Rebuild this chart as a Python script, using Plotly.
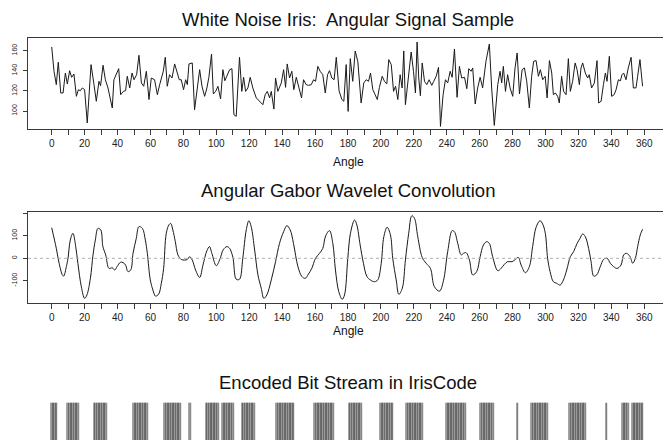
import plotly.graph_objects as go

# ---------------- data ----------------
signal_angle = [0, 1.4, 2.8, 4.0, 5.5, 6.9, 8.3, 9.5, 10.9, 12.1, 13.5, 15.0, 16.2, 17.4, 18.6, 20.0, 21.6, 23.9,
                25.7, 27.1, 28.7, 29.7, 31.2, 32.6, 34.2, 36.8, 37.8, 40.7, 41.9, 43.5, 44.9, 45.9, 47.4, 48.8,
                50.0, 51.6, 53.0, 54.5, 55.9, 57.5, 59.1, 60.5, 62.5, 64.2, 65.6, 67.8, 69.0, 70.2, 71.6, 73.1,
                74.7, 76.3, 77.5, 78.7, 80.1, 81.4, 82.4, 83.4, 85.4, 86.8,
                88.5, 89.9, 91.3, 92.9, 94.3, 95.5, 97.1, 98.2, 99.6, 101.0, 102.6, 104.0, 105.2, 106.7, 108.1,
                109.5, 110.7, 112.1, 114.1, 115.5, 116.6, 117.8, 119.2, 120.6, 122.2, 124.3, 126.3, 128.3, 129.7,
                131.0, 132.4, 133.4, 135.0, 136.0, 137.4, 139.5, 140.9, 142.1, 143.1, 144.5, 145.9, 147.1, 148.6,
                150.2, 151.8, 153.0, 154.6, 156.0, 157.7, 159.1, 160.3, 161.7, 163.1, 164.7, 166.2, 167.6, 168.8,
                170.2, 171.6, 172.9, 174.6,
                176.3, 177.5, 178.9, 180.1, 181.4, 182.9, 184.4, 186.0, 188.0, 189.6, 191.1, 192.5, 193.7, 195.1,
                196.5, 197.8, 199.1, 200.8, 202.2, 203.6, 204.8, 206.3, 207.7, 208.9, 210.3, 211.7, 212.9, 213.9,
                214.9, 216.0, 217.4, 218.4, 219.8, 221.0, 222.0, 223.0, 224.0, 225.1, 226.5, 227.9, 229.3, 230.9,
                232.1, 233.6, 235.0, 236.2, 237.8, 239.2, 240.6, 242.1, 243.3, 244.7, 246.3, 247.7, 249.1, 250.8,
                252.2, 253.4, 254.8, 255.8, 257.3, 258.8, 260.3, 261.8, 263.9,
                265.9, 267.3, 268.9, 271.0, 272.4, 273.4, 274.4, 275.7, 277.0, 278.5, 280.1, 281.5, 282.8, 284.2,
                285.8, 287.2, 288.6, 290.2, 291.6, 292.8, 294.3, 295.7, 296.9, 298.3, 299.8, 301.0, 302.4, 303.8,
                304.8, 306.0, 307.4, 308.4, 309.8, 311.0, 312.5, 313.9, 315.1, 316.5, 318.0, 319.2, 320.6, 321.6,
                322.6, 324.2, 325.6, 326.6, 328.0, 329.7, 331.3, 332.3, 333.8, 335.2, 336.4, 337.4, 338.8, 340.2,
                341.7, 342.9, 344.3, 345.5, 346.5, 347.5, 348.9, 350.3, 352.0, 353.4, 355.0, 356.0, 357.4, 359.0]
signal_value = [163.7, 139.5, 126.2, 148.5, 117.9, 117.9, 137.8, 126.9, 140.1, 133.5, 136.8, 114.6, 121.2, 120.2,
                122.9, 121.2, 88.1, 146.1, 126.2, 109.7, 129.5, 125.2, 145.5, 131.1, 122.9, 103.0, 131.1, 142.1,
                116.2, 119.5, 120.2, 134.5, 122.9, 137.8, 131.1, 136.1, 155.4, 127.9, 124.6, 139.5, 111.4, 132.8,
                131.1, 116.2, 126.2, 139.5, 153.4, 124.6, 136.1, 132.8, 146.8, 137.8, 131.1, 131.1, 121.2, 131.1,
                126.2, 146.8, 147.8, 101.3,
                122.9, 141.1, 124.6, 114.6, 122.9, 133.5, 156.7, 116.9, 119.5, 124.6, 112.0, 141.1, 130.1, 136.8,
                141.1, 142.1, 96.3, 94.7, 153.4, 119.5, 133.5, 119.5, 122.9, 133.5, 122.9, 113.0, 109.7, 106.3,
                116.2, 119.5, 113.0, 119.5, 101.9, 132.8, 119.5, 127.9, 141.1, 123.5, 146.8, 132.8, 139.5, 121.2,
                133.5, 123.5, 113.0, 131.1, 126.2, 125.5, 126.2, 131.1, 129.5, 144.4, 139.5, 136.1, 117.9, 136.1,
                140.1, 132.8, 131.1, 153.4, 120.0,
                111.4, 109.7, 146.1, 99.6, 152.1, 129.5, 159.7, 149.1, 108.0, 127.9, 131.1, 129.5, 137.8, 121.2,
                116.2, 111.4, 123.5, 134.5, 129.5, 126.9, 151.1, 146.1, 119.5, 124.6, 111.4, 136.1, 122.9, 159.7,
                106.3, 124.6, 142.8, 158.7, 139.5, 117.9, 168.6, 132.8, 115.2, 147.8, 129.5, 126.2, 131.1, 125.5,
                129.5, 134.5, 143.4, 84.7, 116.2, 131.1, 127.9, 139.5, 133.5, 161.7, 113.6, 144.4, 132.8, 133.5,
                122.2, 142.1, 139.5, 142.8, 107.0, 122.9, 133.5, 123.0, 150.0,
                166.6, 122.9, 85.7, 126.2, 139.5, 127.9, 144.4, 119.5, 136.1, 122.9, 114.6, 142.8, 157.7, 116.9,
                141.1, 142.8, 129.5, 103.0, 134.5, 149.4, 150.1, 134.5, 141.1, 131.1, 134.5, 113.0, 150.1, 137.8,
                116.2, 117.9, 114.6, 108.0, 134.5, 119.5, 116.2, 152.1, 119.5, 129.5, 147.8, 141.1, 126.2, 142.8,
                147.8, 137.8, 132.8, 136.1, 122.9, 127.9, 150.1, 108.0, 109.7, 126.2, 137.8, 129.5, 154.4, 114.6,
                116.2, 121.2, 131.1, 130.0, 136.1, 137.8, 131.1, 142.8, 153.4, 122.9, 123.0, 134.5, 151.1, 124.6]

conv_angle = [0, 2.8, 4.5, 6.5, 7.3, 8.9, 9.9, 11.3, 12.9, 14.6, 15.9, 18.0, 20.0, 21.4, 23.5, 25.1, 26.5, 28.1,
              29.8, 31.1, 32.8, 34.8, 36.8, 38.3, 39.7, 41.7, 43.3, 44.9, 46.3, 48.0, 49.4, 51.4, 53.0, 55.1,
              56.9, 58.1, 59.9, 61.5, 63.1, 65.0, 66.6, 68.0, 69.6, 71.2, 72.3, 73.6, 75.1, 76.7, 78.7, 80.8,
              82.4, 83.8, 85.4, 87.4, 89.9, 91.9, 94.3, 95.9, 97.3, 100.0, 102.2, 104.2, 106.5, 108.1, 110.1,
              112.1, 114.1, 116.1, 118.2, 119.8, 121.2, 123.3, 125.3, 127.3, 128.9, 130.7, 133.4, 136.0, 138.4,
              140.9, 142.9, 144.9, 146.9, 149.6, 152.0, 154.0, 156.0, 158.0, 160.3, 162.7, 164.7, 166.4, 168.8,
              170.8, 172.4, 174.4, 176.5, 177.9, 179.9, 181.5, 184.0, 185.4, 187.4, 189.4, 191.5, 193.5, 196.1,
              198.1, 200.2, 201.8, 203.8, 205.8, 207.2, 209.3, 210.9, 213.0, 214.9, 216.9, 218.8, 220.4, 222.4,
              225.1, 227.5, 230.1, 232.5, 235.6, 238.0, 240.6, 243.3, 244.7, 246.7, 248.8, 250.2, 251.8, 253.8,
              255.8, 258.2, 260.3, 262.3, 264.3, 265.9, 267.9, 271.0, 273.0, 275.0, 277.0, 279.7, 281.7, 283.5,
              285.2, 287.8, 290.2, 292.2, 294.3, 296.7, 298.3, 299.9, 301.3, 302.8, 304.8, 306.8, 308.9, 310.9,
              312.9, 315.1, 317.1, 319.2, 321.0, 322.6, 324.2, 326.2, 327.7, 329.3, 331.1, 333.3, 335.3, 337.4,
              339.4, 341.4, 343.5, 345.9, 347.5, 349.3, 351.4, 353.0, 354.6, 356.0, 357.6, 359.0]
conv_value = [136, 44, -22, -74, -79, -37, 0, 81, 111, 52, -22, -126, -178, -163, -89, 15, 81, 133,
              126, 52, 15, -45, -42, -52, -37, -18, -19, -30, -59, -52, 22, 89, 141, 133,
              81, 22, -96, -141, -168, -159, -111, -45, 111, 148, 155, 126, 74, 15, -5, -8,
              -5, 7, -8, -52, -85, -30, 34, 52, 22, -33, -4, 38, 52, 44, 4,
              -93, -93, 0, 126, 167, 141, 37, -74, -133, -178, -163, -96, -15, 66,
              118, 145, 126, 66, -37, -81, -89, -70, -45, 0, 22, 44, 99, 123,
              66, -52, -148, -182, -163, 0, 111, 170, 148, 59, -22, -81, -96, -104,
              -96, -22, 96, 138, 104, 0, -96, -160, -133, -8, 111, 189, 178, 96,
              4, -22, -45, -126, -146, -100, 30, 123, 118, 66, 15, 22, 25, -8,
              -74, -59, 7, 59, 74, 66, 7, -55, -45, -27, -15, -15, -5, 4,
              -30, -64, -37, 52, 138, 167, 152, 111, 0, -59, -104, -111, -119, -96,
              -52, 7, 30, 66, 89, 108, 96, 44, -15, -79, -74, -37, -5, 0,
              -22, -37, -45, -30, 15, 22, 7, -22, 0, 52, 104, 129]

# runs of "1" bits (first and last angle of each run, degrees)
bit_runs = [(0, 3), (10, 16), (26, 33), (50, 58), (69, 78), (84, 84), (94, 101), (104, 110), (116, 123),
            (137, 147), (160, 171), (181, 188), (200, 207), (216, 225), (240, 251), (261, 268), (283, 283),
            (292, 301), (315, 324), (337, 337), (347, 350), (353, 359)]

x_ticks = list(range(0, 361, 10))
x_labels = [str(v) if v % 20 == 0 else "" for v in x_ticks]
sig_ticks = [100, 120, 140, 160]
conv_ticks = [-100, 0, 100, 200]
conv_labels = ["-100", "0", "100", ""]
titles = ["White Noise Iris:  Angular Signal Sample", "Angular Gabor Wavelet Convolution",
          "Encoded Bit Stream in IrisCode"]
x_title = "Angle"

bit_angles = [a for s, e in bit_runs for a in range(s, e + 1)]

# ---------------- figure ----------------
W, H = 663, 440
FONT = "Liberation Sans, Arial, Helvetica, sans-serif"
LINE = "#3a3a3a"


def py(p):
    return 1 - p / H


fig = go.Figure()
fig.add_trace(go.Scatter(x=signal_angle, y=signal_value, mode="lines",
                         line=dict(color="#1a1a1a", width=1), xaxis="x", yaxis="y", showlegend=False))
fig.add_trace(go.Scatter(x=conv_angle, y=conv_value, mode="lines", line_shape="spline",
                         line=dict(color="#1a1a1a", width=1), xaxis="x2", yaxis="y2", showlegend=False))
fig.add_trace(go.Bar(x=bit_angles, y=[1] * len(bit_angles), width=1,
                     marker=dict(color="#a8a8a8", line=dict(color="#333333", width=0.5)),
                     xaxis="x3", yaxis="y3", showlegend=False))

xdom = [28 / W, 1]
xrange = [-14.4, 371.4]
xcommon = dict(range=xrange, domain=xdom, tickmode="array", tickvals=x_ticks, ticktext=x_labels,
               ticks="outside", ticklen=5, tickcolor=LINE, showline=True, linecolor=LINE, linewidth=1,
               mirror=True, showgrid=False, zeroline=False, tickfont=dict(size=10, color="#222"),
               ticklabelstandoff=0)
ycommon = dict(ticks="outside", ticklen=4, tickcolor=LINE, showline=True, linecolor=LINE, linewidth=1,
               showgrid=False, zeroline=False, tickangle=-90, tickfont=dict(size=7, color="#222"),
               ticklabelstandoff=3)

fig.update_layout(
    width=W, height=H, autosize=False,
    margin=dict(l=0, r=0, t=0, b=0),
    paper_bgcolor="white", plot_bgcolor="white",
    font=dict(family=FONT, color="#111"),
    bargap=0,
    xaxis=dict(anchor="y", **xcommon),
    yaxis=dict(anchor="x", domain=[py(129.3), py(38.3)], range=[81.8, 172.3],
               tickmode="array", tickvals=sig_ticks, **ycommon),
    xaxis2=dict(anchor="y2", **xcommon),
    yaxis2=dict(anchor="x2", domain=[py(302.7), py(212.3)], range=[-197.3, 204.4],
                tickmode="array", tickvals=conv_ticks, ticktext=conv_labels, **ycommon),
    xaxis3=dict(anchor="y3", range=xrange, domain=xdom, visible=False),
    yaxis3=dict(anchor="x3", domain=[0, py(402.7)], range=[0.5, 1.0], visible=False),
)

fig.add_shape(type="line", xref="x2 domain", yref="y2", x0=0, x1=1, y0=0, y1=0,
              line=dict(color="#b0b0b0", width=1, dash="dot"))

for t, yp in zip(titles, [20, 190, 382]):
    fig.add_annotation(text=t, xref="paper", yref="paper", x=347.5 / W, y=py(yp), showarrow=False,
                       font=dict(size=18.5, family=FONT, color="#111"), xanchor="center", yanchor="middle")
for yp in [162, 331]:
    fig.add_annotation(text=x_title, xref="paper", yref="paper", x=348 / W, y=py(yp), showarrow=False,
                       font=dict(size=12, family=FONT, color="#111"), xanchor="center", yanchor="middle")

fig.write_html("out.html", config={"displayModeBar": False},
               post_script="document.body.style.margin='0';")
